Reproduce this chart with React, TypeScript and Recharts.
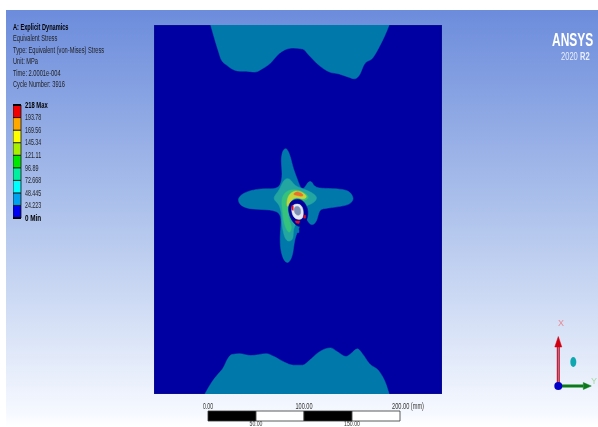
import { Bar, BarChart, LabelList, ReferenceLine, Scatter, ScatterChart, XAxis, YAxis } from "recharts";

// contours in mm on the plate, origin bottom left
type Pt = [number, number];
const plateWidth = 300;
const plateHeight = 384;

const plate: Pt[] = [[0, 0], [300, 0], [300, 384], [0, 384]];
const topContour: Pt[] = [
  [59, 384], [63, 370], [67, 357], [70, 348], [76, 342], [84, 337], [90, 336], [96, 336], [105, 335],
  [112, 338], [122, 345], [129, 353], [136, 358], [145, 360], [155, 359], [161, 353], [172, 342],
  [183, 335], [193, 333], [202, 330], [209, 328], [214, 332], [219, 343], [228, 350], [235, 362],
  [240, 372], [245, 384],
];
const bottomContour: Pt[] = [
  [53, 0], [60, 12], [67, 21], [72, 27], [77, 37], [81, 41], [89, 42], [101, 40], [117, 42], [125, 39],
  [136, 33], [145, 30], [155, 30], [162, 35], [171, 43], [184, 48], [191, 44], [200, 39], [205, 42],
  [212, 47], [217, 42], [224, 32], [235, 23], [241, 12], [245, 0],
];
const crossContour: Pt[] = [
  [137.5, 256], [139, 254], [142, 248], [145, 234], [150, 222], [153, 213], [157, 214], [161, 222],
  [165, 221], [167, 214], [183, 214], [197, 213], [204, 211], [209, 203], [204, 197], [193, 195],
  [177, 193], [172, 192], [170, 180], [165, 175], [161, 178], [157, 186], [153, 178], [150, 170],
  [146, 160], [145, 146], [141, 136], [136, 137], [132, 148], [131, 163], [133, 180], [131, 189],
  [122, 192], [103, 192], [90, 195], [86, 204], [96, 211], [112, 214], [125, 213], [132, 216],
  [134, 229], [132, 243], [134, 254],
];
const midZone: Pt[] = [
  [124, 205], [131, 212], [135, 224], [142, 225], [146, 216], [158, 213], [173, 205], [164, 197],
  [158, 197], [157, 186], [144, 175], [146, 162], [141, 158], [136, 161], [133, 177], [133, 189],
  [130, 198], [126, 201],
];
const greenZone: Pt[] = [
  [132, 205], [140, 213], [151, 213], [164, 205], [156, 200], [148, 203], [141, 200], [139, 192],
  [141, 179], [144, 174], [141, 165], [135, 177], [134, 191],
];
const yellowZone: Pt[] = [
  [139, 205], [143, 210], [150, 212.5], [161, 206], [156, 202], [148, 205.5], [143, 202], [140, 194], [138, 196],
];
const redZone: Pt[] = [[144, 207.5], [150, 212], [157, 206.5], [153, 205.5], [148, 207]];
const holeRim: Pt[] = [
  [140, 198], [146, 203], [154, 203], [160, 195], [161, 185], [156, 174], [149, 174], [143, 181], [140, 189],
];
const holeRing: Pt[] = [
  [143.5, 198], [155, 198], [156, 186], [154, 181], [146, 182], [143, 190],
];
const holeCore: Pt[] = [
  [146.5, 195.5], [152.5, 195.5], [153.5, 186], [148, 185.5], [145.5, 191],
];
const redBits: Pt[][] = [
  [[143.5, 196], [145, 196], [145, 191], [143.5, 192]],
  [[147, 180], [152, 180], [151, 177.5], [148, 178]],
  [[156, 186], [158, 186], [158, 183], [156, 183]],
];
const speck: Pt[] = [[149, 171], [151, 171], [151, 168], [149, 168]];

const plateColor = "#0000a2";
const level1 = "#0079aa";
const level2 = "#23a6a2";
const level3 = "#35c27c";
const level4 = "#c4d63a";
const level5 = "#e8702a";

// legend
const legendValues = [0, 24.223, 48.445, 72.668, 96.89, 121.11, 145.34, 169.56, 193.78, 218];
const legendLabels = ["0 Min", "24.223", "48.445", "72.668", "96.89", "121.11", "145.34", "169.56", "193.78", "218 Max"];
const legendColors = ["#0000f0", "#00a2f0", "#00ffff", "#00f0a0", "#00e800", "#a8f000", "#ffff00", "#ffa800", "#f00000"];
const legendBands = legendColors.map((_, i) => legendValues[i + 1] - legendValues[i]);
const legendRow = [Object.fromEntries([["name", "stress"], ...legendBands.map((v, i) => [`b${i}`, v])])];

// scale bar, mm
const scaleSteps = [50, 50, 50, 50];
const scaleFills = ["#000000", "#ffffff", "#000000", "#ffffff"];
const scaleRow = [Object.fromEntries([["name", "scale"], ...scaleSteps.map((v, i) => [`s${i}`, v])])];
const scaleTop = [0, 100, 200];
const scaleBelow = ["50.00", null, "150.00", null];

// triad
const redShaft: Pt[] = [[0, 0], [0, 0.8]];
const redHead: Pt[] = [[-0.07, 0.78], [0.07, 0.78], [0, 0.99]];
const greenShaft: Pt[] = [[0, 0], [0.5, 0]];
const greenHead: Pt[] = [[0.5, -0.07], [0.5, 0.07], [0.66, 0]];
const origin: Pt[] = [[0, 0]];
const tealDot: Pt[] = [[0.3, 0.48]];

const headerLines = [
  "A: Explicit Dynamics",
  "Equivalent Stress",
  "Type: Equivalent (von-Mises) Stress",
  "Unit: MPa",
  "Time: 2.0001e-004",
  "Cycle Number: 3916",
];

const toXY = (pts: Pt[]) => pts.map(([x, y]) => ({ x, y }));
const noDot = () => null;

function blob(key: string, pts: Pt[], color: string, joint = "linearClosed", edge = color) {
  return (
    <Scatter
      key={key}
      data={toXY(pts)}
      fill={color}
      line={{ fill: color, stroke: edge, strokeWidth: 0.5 }}
      lineJointType={joint as any}
      shape={noDot}
      isAnimationActive={false}
    />
  );
}

function PlateChart() {
  return (
    <ScatterChart
      width={288}
      height={369}
      margin={{ top: 0, right: 0, bottom: 0, left: 0 }}
      style={{ position: "absolute", left: 154, top: 25 }}
    >
      <XAxis type="number" dataKey="x" domain={[0, plateWidth]} hide />
      <YAxis type="number" dataKey="y" domain={[0, plateHeight]} hide />
      {blob("plate", plate, plateColor, "linearClosed", "#26305e")}
      {blob("top", topContour, level1, "monotoneX")}
      {blob("bottom", bottomContour, level1, "monotoneX")}
      {blob("cross", crossContour, level1, "basisClosed")}
      {blob("speck", speck, level1)}
      {blob("mid", midZone, level2, "basisClosed")}
      {blob("green", greenZone, level3, "basisClosed")}
      {blob("yellow", yellowZone, level4, "basisClosed")}
      {blob("red", redZone, level5, "basisClosed")}
      {blob("rim", holeRim, "#00009c", "basisClosed")}
      {blob("ring", holeRing, "#e4e8f0", "basisClosed")}
      {blob("core", holeCore, "#7f90b8", "basisClosed")}
      {redBits.map((b, i) => blob(`bit${i}`, b, "#e01020"))}
    </ScatterChart>
  );
}

function LegendTick({ x, y, payload }: any) {
  const i = legendValues.indexOf(payload.value);
  const bold = i === 0 || i === legendValues.length - 1;
  const perChar = bold ? 3.25 : 2.7;
  return (
    <text
      x={x - 4}
      y={y + 2.8}
      fontSize={8.5}
      fontWeight={bold ? 700 : 400}
      fill={bold ? "#000" : "#222"}
      textLength={legendLabels[i].length * perChar}
      lengthAdjust="spacingAndGlyphs"
    >
      {legendLabels[i]}
    </text>
  );
}

function LegendChart() {
  return (
    <BarChart
      width={60}
      height={127}
      data={legendRow}
      barCategoryGap={0}
      margin={{ top: 6, right: 0, bottom: 8, left: 0 }}
      style={{ position: "absolute", left: 13, top: 99 }}
    >
      <XAxis dataKey="name" hide />
      <YAxis
        orientation="right"
        type="number"
        domain={[0, 218]}
        ticks={legendValues}
        interval={0}
        width={52}
        axisLine={false}
        tickLine={false}
        tick={LegendTick}
      />
      {legendColors.map((c, i) => (
        <Bar key={c} dataKey={`b${i}`} stackId="a" fill={c} stroke="#101010" strokeWidth={0.8} isAnimationActive={false} />
      ))}
      <ReferenceLine y={218} stroke="#000" strokeWidth={2} />
      <ReferenceLine y={0} stroke="#000" strokeWidth={2} />
    </BarChart>
  );
}

function ScaleTick({ x, y, payload }: any) {
  const v = payload.value;
  const last = v === 200;
  const len = last ? 32 : v === 0 ? 10 : 17;
  return (
    <text x={last ? x - 8 : x} y={y + 1} fontSize={8.5} fill="#333" textAnchor={last ? "start" : "middle"}
      textLength={len} lengthAdjust="spacingAndGlyphs">
      {last ? "200.00 (mm)" : v.toFixed(2)}
    </text>
  );
}

// 50.00 and 150.00 sit under the right end of the black blocks
const belowLabel = (i: number) => (p: any) => {
  if (!scaleBelow[i]) return null;
  return (
    <text x={p.x + p.width} y={p.y + p.height + 4.5} fontSize={7} fill="#333" textAnchor="middle"
      textLength={i === 0 ? 13 : 16} lengthAdjust="spacingAndGlyphs">
      {scaleBelow[i]}
    </text>
  );
};

function ScaleChart() {
  return (
    <BarChart
      width={270}
      height={40}
      layout="vertical"
      data={scaleRow}
      barCategoryGap={0}
      margin={{ top: 0, right: 68, bottom: 17, left: 10 }}
      style={{ position: "absolute", left: 198, top: 398 }}
    >
      <YAxis type="category" dataKey="name" hide />
      <XAxis
        orientation="top"
        type="number"
        domain={[0, 200]}
        ticks={scaleTop}
        interval={0}
        height={13}
        tickSize={0}
        tickMargin={3}
        axisLine={false}
        tickLine={false}
        tick={ScaleTick}
      />
      {scaleSteps.map((_, i) => (
        <Bar key={i} dataKey={`s${i}`} stackId="s" fill={scaleFills[i]} stroke="#333" strokeWidth={0.8} isAnimationActive={false}>
          <LabelList content={belowLabel(i)} />
        </Bar>
      ))}
    </BarChart>
  );
}

function line(key: string, pts: Pt[], color: string, width: number) {
  return (
    <Scatter
      key={key}
      data={toXY(pts)}
      line={{ stroke: color, strokeWidth: width }}
      shape={noDot}
      isAnimationActive={false}
    />
  );
}

function TriadChart() {
  return (
    <ScatterChart
      width={58}
      height={80}
      margin={{ top: 0, right: 0, bottom: 0, left: 0 }}
      style={{ position: "absolute", left: 540, top: 320 }}
    >
      <XAxis type="number" dataKey="x" domain={[-0.366, 0.794]} hide />
      <YAxis type="number" dataKey="y" domain={[-0.28, 1.32]} hide />
      {line("rs", redShaft, "#b01030", 3)}
      {line("rs2", redShaft, "#e89098", 0.8)}
      {blob("rh", redHead, "#d00010")}
      {line("gs", greenShaft, "#0a7a1a", 3)}
      {blob("gh", greenHead, "#0a7a1a")}
      <Scatter
        data={toXY(origin)}
        shape={(p: any) => <circle cx={p.cx} cy={p.cy} r={4} fill="#0000c8" />}
        isAnimationActive={false}
      />
      <Scatter
        data={toXY(tealDot)}
        shape={(p: any) => <ellipse cx={p.cx} cy={p.cy} rx={3} ry={5} fill="#10a8b0" />}
        isAnimationActive={false}
      />
    </ScatterChart>
  );
}

const condensed: React.CSSProperties = {
  position: "absolute",
  whiteSpace: "nowrap",
  transformOrigin: "left center",
};

export default function App() {
  return (
    <div
      style={{
        position: "fixed",
        left: 0,
        top: 0,
        width: 598,
        height: 427,
        overflow: "hidden",
        background: "#fff",
        fontFamily: "'Liberation Sans', Arial, sans-serif",
        filter: "blur(0.4px)",
      }}
    >
      <div
        style={{
          position: "absolute",
          left: 6,
          top: 10,
          width: 592,
          height: 417,
          background: "linear-gradient(#6c8cdc 0%, #b0c4ec 50%, #f6f9ff 97%, #ffffff 100%)",
        }}
      />
      {headerLines.map((t, i) => (
        <div
          key={t}
          style={{
            ...condensed,
            left: 13,
            top: 22 + i * 11.4,
            fontSize: 8.5,
            lineHeight: "10px",
            fontWeight: i === 0 ? 700 : 400,
            color: i === 0 ? "#000" : "#222",
            transform: i === 0 ? "scaleX(0.66)" : "scaleX(0.67)",
          }}
        >
          {t}
        </div>
      ))}
      <div style={{ ...condensed, left: 552, top: 29, fontSize: 19, lineHeight: "22px", fontWeight: 700, color: "#fff", transform: "scaleX(0.63)" }}>
        ANSYS
      </div>
      <div style={{ ...condensed, left: 561, top: 50, fontSize: 10.5, lineHeight: "12px", color: "#e8eefc", transform: "scaleX(0.72)" }}>
        2020 <b>R2</b>
      </div>
      <PlateChart />
      <LegendChart />
      <ScaleChart />
      <TriadChart />
      <div style={{ ...condensed, left: 558, top: 318, fontSize: 9, color: "#e88a90" }}>X</div>
      <div style={{ ...condensed, left: 591, top: 376, fontSize: 9, color: "#a8d8a8" }}>Y</div>
    </div>
  );
}
